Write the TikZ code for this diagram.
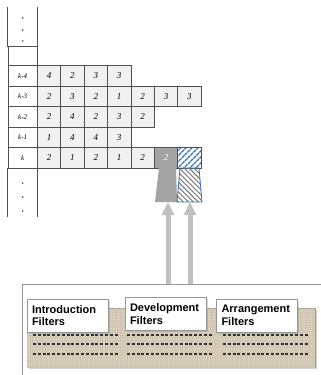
\documentclass[tikz,border=0pt]{standalone}
\usepackage{fontspec}
\setmainfont{Liberation Serif}
\newfontfamily\filterfont{Liberation Sans}
\usetikzlibrary{arrows.meta,patterns.meta,shadows}
\definecolor{cellgray}{RGB}{241,241,241}
\definecolor{cellline}{RGB}{80,80,80}
\definecolor{darkcell}{RGB}{163,163,163}
\definecolor{hatchblue}{RGB}{58,110,185}
\definecolor{linen}{RGB}{218,209,190}
\definecolor{linenline}{RGB}{207,197,176}
\definecolor{arrowgray}{RGB}{192,192,192}
\definecolor{framegray}{RGB}{150,150,150}

\begin{document}
\begin{tikzpicture}[x=1pt, y=-1pt,
    cell/.style={draw=cellline, fill=cellgray, line width=0.7pt, minimum width=23.4pt, minimum height=20.5pt, inner sep=0pt, font=\fontsize{9}{9}\selectfont\itshape},
    rowlabel/.style={draw=cellline, fill=white, line width=0.7pt, minimum width=29.3pt, minimum height=20.5pt, inner sep=0pt, font=\fontsize{7}{7}\selectfont\itshape},
    colline/.style={draw=cellline, line width=0.7pt},
    panel/.style={draw=framegray, fill=linen, minimum height=59pt, inner sep=0pt,
        drop shadow={shadow xshift=1.5pt, shadow yshift=-1.5pt, opacity=0.35},
        postaction={pattern={Hatch[distance=2.5pt, line width=0.25pt]}, pattern color=linenline}},
    filterbox/.style={draw=framegray, fill=white, minimum height=33pt, text width=71pt, inner sep=5pt, align=left,
        drop shadow={shadow xshift=1.5pt, shadow yshift=-1.5pt, opacity=0.3},
        font=\filterfont\bfseries\fontsize{11}{12.5}\selectfont},
    dashrule/.style={black!80, line width=1.1pt, dash pattern=on 3pt off 1.8pt},
    fatarrow/.style={arrowgray, line width=5pt, -{Triangle[width=12pt, length=13pt]}},
    frame/.style={framegray, line width=0.8pt}
]
\useasboundingbox (0,0) rectangle (321,375);

% time index column
\node[minimum width=29.3pt, minimum height=39.5pt, inner sep=0pt] (topdots) at (22.65,26.75) {};
\node[rowlabel, minimum height=19pt] (blank) at (22.65,56) {};
\node[rowlabel] (lk4) at (22.65,75.75)  {k-4};
\node[rowlabel] (lk3) at (22.65,96.25)  {k-3};
\node[rowlabel] (lk2) at (22.65,116.75) {k-2};
\node[rowlabel] (lk1) at (22.65,137.25) {k-1};
\node[rowlabel] (lk)  at (22.65,157.75) {k};
\node[minimum width=29.3pt, minimum height=49pt, inner sep=0pt] (botdots) at (22.65,192.5) {};
\draw[colline] (topdots.north west) -- (topdots.south west) (topdots.north east) -- (topdots.south east);
\draw[colline] (botdots.north west) -- (botdots.south west) (botdots.north east) -- (botdots.south east);
\foreach \y in {18,30,41,183,197,211}
    \fill[cellline] (22.65,\y) circle (0.9);

% note rows
\foreach \v [count=\c] in {4,2,3,3}
    \node[cell] (r1c\c) at ({25.6+23.4*\c},75.75) {\v};
\foreach \v [count=\c] in {2,3,2,1,2,3,3}
    \node[cell] (r2c\c) at ({25.6+23.4*\c},96.25) {\v};
\foreach \v [count=\c] in {2,4,2,3,2}
    \node[cell] (r3c\c) at ({25.6+23.4*\c},116.75) {\v};
\foreach \v [count=\c] in {1,4,4,3}
    \node[cell] (r4c\c) at ({25.6+23.4*\c},137.25) {\v};
\foreach \v [count=\c] in {2,1,2,1,2}
    \node[cell] (r5c\c) at ({25.6+23.4*\c},157.75) {\v};
\node[cell, fill=darkcell, text=white] (r5c6) at (166,157.75) {2};
\node[cell, pattern={Lines[angle=45, distance=4pt, line width=1.4pt]}, pattern color=hatchblue] (r5c7) at (189.4,157.75) {};

% filters under the current notes
\fill[darkcell] (159,168) -- (176,168) -- (177,202) -- (155,202) -- cycle;
\draw[hatchblue, line width=0.8pt, pattern={Lines[angle=-45, distance=3.5pt, line width=1.1pt]}, pattern color=gray]
    (180,168) -- (199,168) -- (202,202) -- (177,202) -- cycle;
\coordinate (trapA) at (166,202);
\coordinate (trapB) at (189.5,202);

% filter bank
\coordinate (frameTR) at (321,284);
\coordinate (frameBL) at (22,375);
\draw[frame] (frameTR) -| (frameBL);
\coordinate (footA) at (168,284);
\coordinate (footB) at (190,284);
\draw[fatarrow] (footA) -- (footA |- trapA);
\draw[fatarrow] (footB) -- (footB |- trapB);

\node[panel, minimum width=93pt] (intro) at (73.5,337.5) {};
\foreach \y in {335,344,354}
    \draw[dashrule] (33,\y) -- (118,\y);
\node[filterbox] (introlbl) at (67.5,315.5) {Introduction\\Filters};

\node[panel, minimum width=97pt] (devel) at (168.5,337.5) {};
\foreach \y in {335,344,354}
    \draw[dashrule] (127,\y) -- (212,\y);
\node[filterbox] (devellbl) at (165.5,314) {Development\\Filters};

\node[panel, minimum width=98pt] (arrange) at (266,337.5) {};
\foreach \y in {335,344,354}
    \draw[dashrule] (223,\y) -- (308,\y);
\node[filterbox] (arrangelbl) at (257,315.5) {Arrangement\\Filters};
\end{tikzpicture}
\end{document}
